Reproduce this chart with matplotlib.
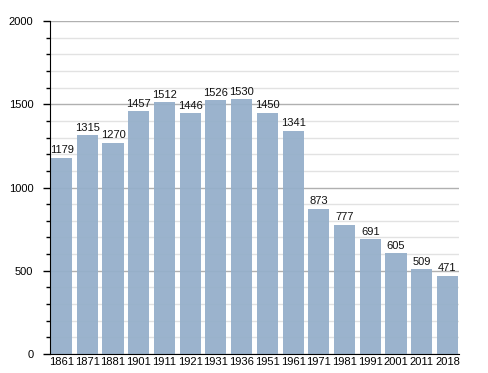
import matplotlib
matplotlib.use("Agg")
import matplotlib.pyplot as plt
from matplotlib.ticker import MultipleLocator

years = ["1861", "1871", "1881", "1901", "1911", "1921", "1931", "1936",
         "1951", "1961", "1971", "1981", "1991", "2001", "2011", "2018"]
population = [1179, 1315, 1270, 1457, 1512, 1446, 1526, 1530,
              1450, 1341, 873, 777, 691, 605, 509, 471]

plt.rcParams['font.family'] = ['Liberation Sans', 'DejaVu Sans']

fig = plt.figure(figsize=(4.88, 3.73), dpi=100)
ax = fig.add_axes([50 / 488, 1 - 354 / 373, 409 / 488, 333 / 373])

x = list(range(len(years)))
# slight transparency so the gridlines show faintly through the bars
ax.bar(x, population, width=0.82, color='#95afca', alpha=0.94, zorder=2)

for xi, v in zip(x, population):
    ax.text(xi, v + 14, str(v), ha='center', va='bottom', fontsize=8, color='#111111')

ax.set_xlim(-0.45, len(years) - 0.55)
ax.set_ylim(0, 2000)
ax.set_xticks(x)
ax.set_xticklabels(years, fontsize=8)
ax.yaxis.set_major_locator(MultipleLocator(500))
ax.yaxis.set_minor_locator(MultipleLocator(100))
ax.tick_params(axis='y', labelsize=8, length=5, width=1, pad=7)
ax.tick_params(axis='y', which='minor', length=3, width=1)
ax.tick_params(axis='x', length=0, pad=2)

ax.grid(axis='y', which='major', color='#b0b0b0', linewidth=1, zorder=0)
ax.grid(axis='y', which='minor', color='#e2e2e2', linewidth=1, zorder=0)
ax.set_axisbelow(True)

for side in ['top', 'right']:
    ax.spines[side].set_visible(False)
ax.spines['left'].set_color('black')
ax.spines['bottom'].set_color('black')

fig.savefig("out.png", dpi=100)
